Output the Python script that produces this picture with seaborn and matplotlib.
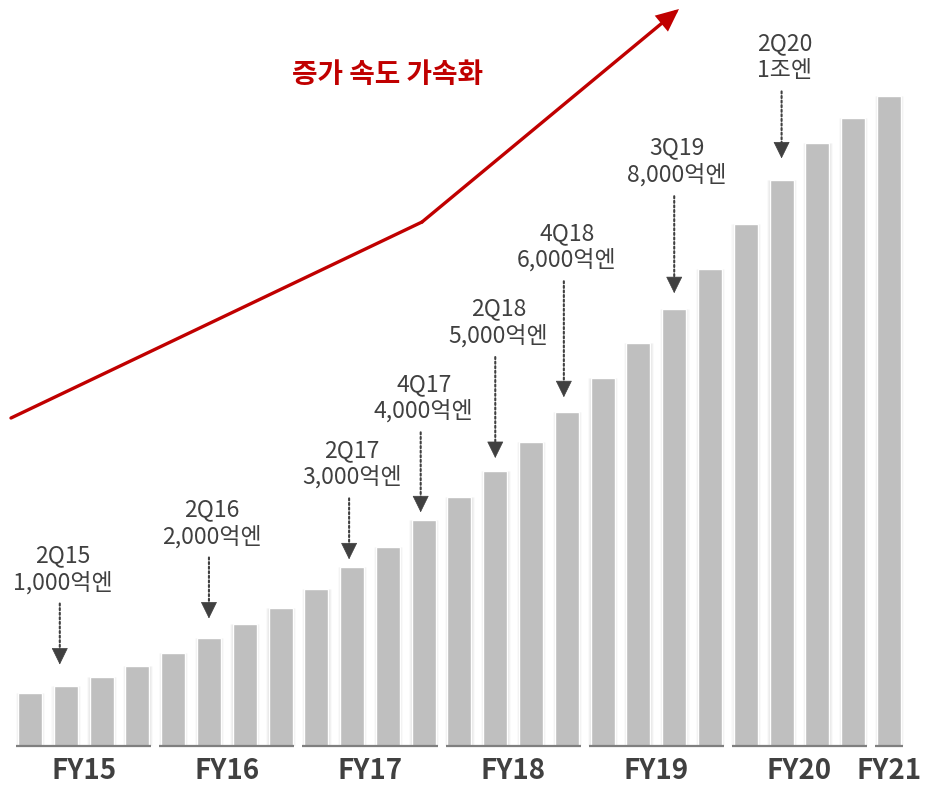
import matplotlib
matplotlib.use("Agg")
import matplotlib.pyplot as plt
import matplotlib.transforms as mtransforms
import seaborn as sns
import pandas as pd

# ---------------- data ----------------
quarters = ["1Q15", "2Q15", "3Q15", "4Q15",
            "1Q16", "2Q16", "3Q16", "4Q16",
            "1Q17", "2Q17", "3Q17", "4Q17",
            "1Q18", "2Q18", "3Q18", "4Q18",
            "1Q19", "2Q19", "3Q19", "4Q19",
            "1Q20", "2Q20", "3Q20", "4Q20",
            "1Q21"]
values = [940, 1080, 1240, 1430, 1660, 1920, 2170, 2470, 2800, 3190,
          3560, 4030, 4440, 4910, 5420, 5960, 6580, 7190, 7800, 8510,
          9320, 10100, 10760, 11210, 11600]  # 억엔 (estimated)
fy_labels = ["FY15", "FY16", "FY17", "FY18", "FY19", "FY20", "FY21"]
fy_first = [0, 4, 8, 12, 16, 20, 24]
fy_last = [3, 7, 11, 15, 19, 23, 24]

ann_quarters = ["2Q15", "2Q16", "2Q17", "4Q17", "2Q18", "4Q18", "3Q19", "2Q20"]
ann_amounts = ["1,000억엔", "2,000억엔", "3,000억엔", "4,000억엔",
               "5,000억엔", "6,000억엔", "8,000억엔", "1조엔"]
headline = "증가 속도 가속화"

# layout for annotations (pixels)
ann_gap = [21, 20, 8, 8, 13, 15, 16, 22]
ann_len = [61, 61, 61, 80, 101, 116, 97, 67]
ann_dx = [-6, 0, -3, -3, 0, -3, 0, 0]

# ---------------- style ----------------
sns.set_theme(style="white")
plt.rcParams["font.family"] = ["Noto Sans CJK KR", "DejaVu Sans"]

W, H = 926, 785
fig = plt.figure(figsize=(W / 100, H / 100), dpi=100)
base_px = 746
ax = fig.add_axes([0, (H - base_px) / H, 1, base_px / H])

BAR = "#bfbfbf"
DARK = "#404040"
RED = "#c00000"

df = pd.DataFrame({"quarter": quarters, "value": values})

# soft shadow behind bars
for w, a in [(0.80, 0.10), (0.74, 0.18)]:
    sns.barplot(data=df, x="quarter", y="value", order=quarters, color="#a8a8a8",
                width=w, saturation=1, alpha=a, ax=ax, errorbar=None)
sns.barplot(data=df, x="quarter", y="value", order=quarters, color=BAR,
            width=0.67, saturation=1, ax=ax, errorbar=None)

px_per_val = 0.056
ax.set_xlim(-30 / 35.79, (W - 30) / 35.79)
ax.set_ylim(0, base_px / px_per_val)
for s in ax.spines.values():
    s.set_visible(False)
ax.set_yticks([])
ax.set_xlabel("")
ax.set_ylabel("")

# baseline segments per fiscal year
for a, b in zip(fy_first, fy_last):
    ax.plot([a - 0.39, b + 0.39], [0, 0], color="#7f7f7f", lw=1.6,
            solid_capstyle="butt", clip_on=False, zorder=5)

# FY tick labels
centers = [(a + b) / 2 for a, b in zip(fy_first, fy_last)]
ax.set_xticks(centers)
ax.set_xticklabels(fy_labels, fontsize=20, fontweight="bold", color=DARK)
ax.tick_params(axis="x", length=0, pad=8)

# annotations
for q, amt, gap, ln, dx in zip(ann_quarters, ann_amounts, ann_gap, ann_len, ann_dx):
    i = quarters.index(q)
    v = values[i]
    tip_tr = mtransforms.offset_copy(ax.transData, fig=fig, x=dx, y=gap, units="dots")
    base_tr = mtransforms.offset_copy(ax.transData, fig=fig, x=dx, y=gap + 14, units="dots")
    # dotted shaft
    ax.annotate("", xy=(i, v), xycoords=base_tr,
                xytext=(0, ln - 14), textcoords="offset pixels",
                arrowprops=dict(arrowstyle="-", color=DARK, lw=1.5,
                                linestyle=(0, (1, 1.2)), shrinkA=0, shrinkB=0),
                annotation_clip=False)
    # solid head
    ax.annotate("", xy=(i, v), xycoords=tip_tr,
                xytext=(0, 15), textcoords="offset pixels",
                arrowprops=dict(arrowstyle="-|>,head_length=0.55,head_width=0.27",
                                mutation_scale=20, color=DARK, lw=0.5,
                                shrinkA=0, shrinkB=0),
                annotation_clip=False)
    ax.annotate(amt, xy=(i, v), xycoords=tip_tr, xytext=(3, ln + 21),
                textcoords="offset pixels",
                ha="center", va="center", fontsize=16.5, color=DARK)
    ax.annotate(q, xy=(i, v), xycoords=tip_tr, xytext=(3, ln + 48),
                textcoords="offset pixels",
                ha="center", va="center", fontsize=16.5, color=DARK)

# red trend arrow (figure pixel coordinates, origin bottom-left)
def fp(x, y_top):
    return (x, H - y_top)

p0, p1, p2 = fp(11, 418), fp(422, 222), fp(679, 9)
ax.annotate("", xy=p1, xycoords="figure pixels", xytext=p0, textcoords="figure pixels",
            arrowprops=dict(arrowstyle="-", color=RED, lw=2.4, shrinkA=0, shrinkB=0,
                            capstyle="round"),
            annotation_clip=False)
ax.annotate("", xy=p2, xycoords="figure pixels", xytext=p1, textcoords="figure pixels",
            arrowprops=dict(arrowstyle="-|>,head_length=0.62,head_width=0.28",
                            mutation_scale=20, color=RED, lw=2.4,
                            shrinkA=0, shrinkB=0, joinstyle="miter"),
            annotation_clip=False)
ax.annotate(headline, xy=fp(388, 75), xycoords="figure pixels",
            ha="center", va="center", fontsize=20, color=RED, fontweight="semibold",
            annotation_clip=False)

fig.savefig("out.png", dpi=100)
